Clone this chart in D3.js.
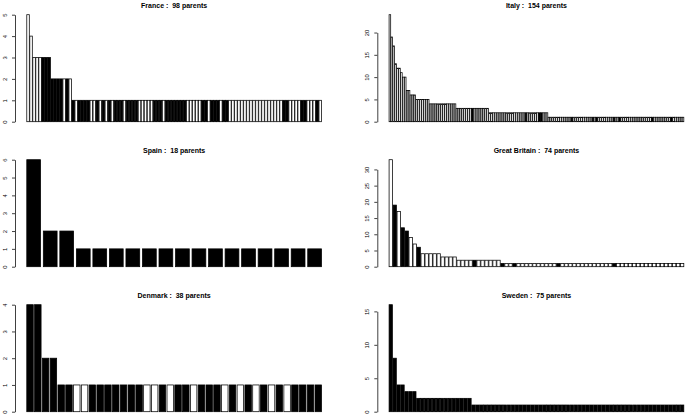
<!DOCTYPE html>
<html>
<head>
<meta charset="utf-8">
<script src="https://cdn.jsdelivr.net/npm/d3@7"></script>
<style>
  html, body { margin: 0; padding: 0; background: #fff; }
  svg { display: block; }
  text { font-family: "Liberation Sans", Arial, Helvetica, sans-serif; white-space: pre; }
</style>
</head>
<body>
<svg id="chart" width="687" height="417"></svg>
<script>
// ---- data ----
const countries = ["France", "Italy", "Spain", "Great Britain", "Denmark", "Sweden"];
const parentCounts = [98, 154, 18, 74, 38, 75];

const franceValues = [5,4,3,3,3,3,3,3,2,2,2,2,2,2,2,
  1,1,1,1,1,1,1,1,1,1, 1,1,1,1,1,1,1,1,1,1, 1,1,1,1,1,1,1,1,1,1, 1,1,1,1,1,1,1,1,1,1,
  1,1,1,1,1,1,1,1,1,1, 1,1,1,1,1,1,1,1,1,1, 1,1,1,1,1,1,1,1,1,1, 1,1,1,1,1,1,1,1,1,1, 1,1,1];
const italyValues = [24,19,17,13,12,12,11,10,10,7,7,6,6,6,5,5,5,5,5,5,5,
  4,4,4,4,4,4,4,4,4,4,4,4,4,4,
  3,3,3,3,3,3,3,3,3,3,3,3,3,3,3,3,3,
  2,2,2,2,2,2,2,2,2,2, 2,2,2,2,2,2,2,2,2,2, 2,2,2,2,2,2,2,2,2,2, 2,
  1,1,1,1,1,1,1,1,1,1, 1,1,1,1,1,1,1,1,1,1, 1,1,1,1,1,1,1,1,1,1, 1,1,1,1,1,1,1,1,1,1,
  1,1,1,1,1,1,1,1,1,1, 1,1,1,1,1,1,1,1,1,1, 1,1,1,1,1,1,1,1,1,1, 1];
const spainValues = [6,2,2,1,1,1,1,1,1,1,1,1,1,1,1,1,1,1];
const gbValues = [33,19,17,12,11,9,7,6,4,4,4,4,4,3,3,3,3,
  2,2,2,2,2,2,2,2,2,2,2,
  1,1,1,1,1,1,1,1,1,1, 1,1,1,1,1,1,1,1,1,1, 1,1,1,1,1,1,1,1,1,1, 1,1,1,1,1,1,1,1,1,1, 1,1,1,1,1,1];
const denmarkValues = [4,4,2,2,
  1,1,1,1,1,1,1,1,1,1, 1,1,1,1,1,1,1,1,1,1, 1,1,1,1,1,1,1,1,1,1, 1,1,1,1];
const swedenValues = [16,8,4,4,3,3,3,
  2,2,2,2,2,2,2,2,2,2,2,2,2,2,
  1,1,1,1,1,1,1,1,1,1, 1,1,1,1,1,1,1,1,1,1, 1,1,1,1,1,1,1,1,1,1, 1,1,1,1,1,1,1,1,1,1,
  1,1,1,1,1,1,1,1,1,1, 1,1,1,1];

// positions (1-based) of black-filled bars; all others are white
const franceBlack = [6,7,8,9,10,11,12,14,16,18,19,20,21,24,26,28,30,31,32,34,35,36,37,43,44,45,
  47,48,49,50,51,52,53,59,60,62,63,64,66,67,86,87,92,93,97];
const italyBlack = [44,72,79,80,96,107,109,118,121,138,148];
const spainBlack = [1,2,3,4,5,6,7,8,9,10,11,12,13,14,15,16,17,18];
const gbBlack = [2,4,5,8,22,29,32,43,57];
const denmarkBlack = [1,2,3,4,5,6,9,10,11,12,13,14,15,18,20,21,23,24,25,27,29,31,33,35,36,37,38];
const swedenBlack = [1,2,3,4,5,6,7,8,9,10,11,12,13,14,15,16,17,18,19,20,21,22,23,24,25,
  26,27,28,29,30,31,32,33,34,35,36,37,38,39,40,41,42,43,44,45,46,47,48,49,50,
  51,52,53,54,55,56,57,58,59,60,61,62,63,64,65,66,67,68,69,70,71,72,73,74,75];

const franceTicks = [0,1,2,3,4,5];
const italyTicks = [0,5,10,15,20];
const spainTicks = [0,1,2,3,4,5,6];
const gbTicks = [0,5,10,15,20,25,30];
const denmarkTicks = [0,1,2,3,4];
const swedenTicks = [0,5,10,15];

const panelValues = [franceValues, italyValues, spainValues, gbValues, denmarkValues, swedenValues];
const panelBlack = [franceBlack, italyBlack, spainBlack, gbBlack, denmarkBlack, swedenBlack];
const panelTicks = [franceTicks, italyTicks, spainTicks, gbTicks, denmarkTicks, swedenTicks];

// ---- layout ----
const colLeft = [15, 377.3];
const plotWidth = 318.3;
const rowBase = [121.7, 266.7, 411.7];
const barSpan = 107;
const titleY = [8.3, 153.3, 298.3];

const svg = d3.select("#chart");
svg.append("rect").attr("width", 687).attr("height", 417).attr("fill", "#fff");

countries.forEach((name, k) => {
  const col = k % 2, row = Math.floor(k / 2);
  const vals = panelValues[k];
  const black = new Set(panelBlack[k]);
  const n = vals.length;
  const L = colLeft[col], R = L + plotWidth;
  const base = rowBase[row];

  // R barplot geometry: width 1, space 0.2, 4% axis extension
  const lo = 0.2, hi = 1.2 * n, ext = 0.04 * (hi - lo);
  const x = d3.scaleLinear().domain([lo - ext, hi + ext]).range([L, R]);
  const maxV = d3.max(vals);
  const y = d3.scaleLinear().domain([0, maxV]).range([base, base - barSpan]);

  const g = svg.append("g");
  g.selectAll("rect.bar")
    .data(vals)
    .join("rect")
    .attr("class", "bar")
    .attr("x", (d, i) => x(0.2 + 1.2 * i))
    .attr("width", (d, i) => x(1.2 + 1.2 * i) - x(0.2 + 1.2 * i))
    .attr("y", d => y(d))
    .attr("height", d => y(0) - y(d))
    .attr("fill", (d, i) => black.has(i + 1) ? "#000" : "#fff")
    .attr("stroke", "#000")
    .attr("stroke-width", 0.75);

  const ticks = panelTicks[k];
  const ya = d3.scaleLinear().domain([0, ticks[ticks.length - 1]])
    .range([y(0), y(ticks[ticks.length - 1])]);
  const axis = d3.axisLeft(ya).tickValues(ticks).tickFormat(d3.format("d"))
    .tickSize(3).tickSizeOuter(0);
  const ag = g.append("g").attr("transform", `translate(${L},0)`).call(axis);
  ag.select(".domain").attr("stroke", "#000").attr("stroke-width", 0.75);
  ag.selectAll(".tick line").attr("stroke", "#000").attr("stroke-width", 0.75);
  ag.selectAll(".tick text")
    .attr("x", null).attr("dy", null)
    .attr("transform", "translate(-8.4,0) rotate(-90)")
    .attr("text-anchor", "middle")
    .attr("font-size", 5.8)
    .attr("fill", "#000")
    .style("font-family", '"Liberation Sans", Arial, sans-serif');

  g.append("text")
    .attr("x", (L + R) / 2)
    .attr("y", titleY[row])
    .attr("text-anchor", "middle")
    .attr("font-size", 7)
    .attr("font-weight", "bold")
    .attr("fill", "#000")
    .text(`${name} :  ${parentCounts[k]} parents`);
});
</script>
</body>
</html>
